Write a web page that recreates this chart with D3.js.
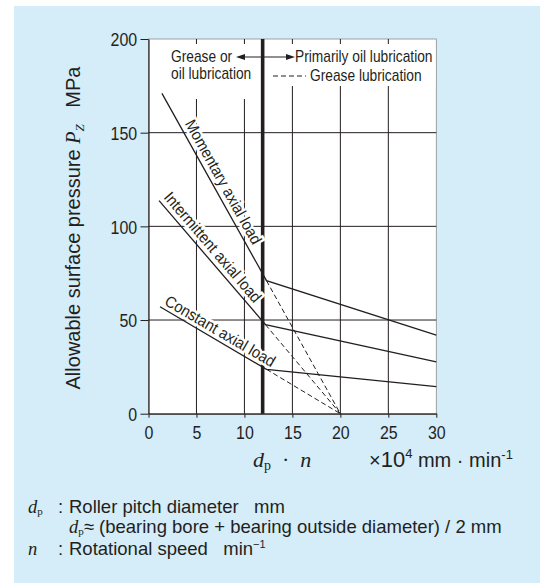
<!DOCTYPE html>
<html>
<head>
<meta charset="utf-8">
<script src="https://cdn.jsdelivr.net/npm/d3@7"></script>
<style>
  body { margin: 0; background: #fff; }
  svg text { font-family: "Liberation Sans", Arial, sans-serif; fill: #231f20; }
  .math { font-family: "Liberation Serif", serif; font-style: italic; }
  .rm { font-family: "Liberation Serif", serif; font-style: normal; }
</style>
</head>
<body>
<div id="chart"></div>
<script>
let w = 546;
let h = 585;

// chart values
const xTicks = [0, 5, 10, 15, 20, 25, 30];
const yTicks = [0, 50, 100, 150, 200];
const gridX = [5, 10, 15, 20, 25];
const gridY = [50, 100, 150];
const loadNames = ["Momentary axial load", "Intermittent axial load", "Constant axial load"];
const startX = [1.4, 1.1, 1.2];
const startP = [171, 113.7, 57.1];
const kinkX = [12.3, 12.2, 12.3];
const kinkP = [71, 47.5, 23.7];
const endX = [30, 30, 30];
const endP = [42, 27.7, 14.4];
const limitX = 11.9;   // grease / oil border
const zeroX = 20;      // grease lubrication limit

const ink = "#231f20";
const sp = "\u00a0";

let svg = d3.select("#chart")
            .append("svg")
            .attr("width", w)
            .attr("height", h);

// condensed text: group at (x,y) squeezed horizontally
function narrowText(x, y, sx, size, str, anchor) {
  return svg.append("g")
    .attr("transform", `translate(${x},${y}) scale(${sx},1)`)
    .append("text")
    .attr("font-size", size)
    .attr("text-anchor", anchor || "start")
    .text(str);
}

// blue panel
svg.append("rect")
   .attr("x", 14).attr("y", 6)
   .attr("width", 526).attr("height", 577)
   .attr("fill", "#d5ecf9");

let xScale = d3.scaleLinear([0, 30], [148.5, 436.3]);
let yScale = d3.scaleLinear([0, 200], [413.7, 39]);

// plot area
svg.append("rect")
   .attr("x", xScale(0)).attr("y", yScale(200))
   .attr("width", xScale(30) - xScale(0))
   .attr("height", yScale(0) - yScale(200))
   .attr("fill", "#fff")
   .attr("stroke", "#8a8a8a")
   .attr("stroke-width", 0.8);

// grid
svg.selectAll(".gx").data(gridX).enter().append("line")
   .attr("x1", d => xScale(d)).attr("x2", d => xScale(d))
   .attr("y1", yScale(200)).attr("y2", yScale(0))
   .attr("stroke", ink).attr("stroke-width", 1);

svg.selectAll(".gy").data(gridY).enter().append("line")
   .attr("x1", xScale(0)).attr("x2", xScale(30))
   .attr("y1", d => yScale(d)).attr("y2", d => yScale(d))
   .attr("stroke", ink).attr("stroke-width", 1);

// legend boxes hide the grid behind the legend text
svg.append("rect")
   .attr("x", xScale(0) + 1).attr("y", yScale(200) + 5)
   .attr("width", xScale(limitX) - xScale(0) - 3).attr("height", 55)
   .attr("fill", "#fff");
svg.append("rect")
   .attr("x", xScale(limitX) + 2).attr("y", yScale(200) + 5)
   .attr("width", xScale(30) - xScale(limitX) - 3).attr("height", 42)
   .attr("fill", "#fff");

// axes
let yAxis = d3.axisLeft(yScale).tickValues(yTicks).tickSize(8).tickSizeOuter(0).tickPadding(3);
let gy = svg.append("g")
   .attr("transform", `translate(${xScale(0)},0)`)
   .call(yAxis);
let xAxis = d3.axisBottom(xScale).tickValues(xTicks).tickSize(4).tickSizeOuter(0).tickPadding(8);
let gx = svg.append("g")
   .attr("transform", `translate(0,${yScale(0)})`)
   .call(xAxis);
[gx, gy].forEach(g => {
  g.select(".domain").attr("stroke", ink).attr("stroke-width", 1.2);
  g.selectAll(".tick line").attr("stroke", ink).attr("stroke-width", 1);
  g.selectAll(".tick text").attr("font-size", 19).attr("fill", ink)
   .style("font-family", "'Liberation Sans',Arial,sans-serif")
   .attr("transform", "scale(0.84,1)");
});
gy.selectAll(".tick text").attr("dy", "0.36em").attr("x", -13.5);

// thick limit line
svg.append("line")
   .attr("x1", xScale(limitX)).attr("x2", xScale(limitX))
   .attr("y1", yScale(200)).attr("y2", yScale(0))
   .attr("stroke", ink).attr("stroke-width", 3.6);

// load labels along the grease segments
const labelT = [0.5, 0.43, 0.52];
const labelOff = [-5, -5, -4];
loadNames.forEach((name, i) => {
  let x1 = xScale(startX[i]), y1 = yScale(startP[i]);
  let x2 = xScale(kinkX[i]), y2 = yScale(kinkP[i]);
  let ang = Math.atan2(y2 - y1, x2 - x1) * 180 / Math.PI;
  let px = x1 + (x2 - x1) * labelT[i];
  let py = y1 + (y2 - y1) * labelT[i];
  svg.append("text")
     .attr("transform", `translate(${px},${py}) rotate(${ang}) scale(0.92,1)`)
     .attr("y", labelOff[i])
     .attr("text-anchor", "middle")
     .attr("font-size", 16)
     .attr("stroke", "#fff").attr("stroke-width", 5)
     .attr("paint-order", "stroke")
     .text(name);
});

// curves
let line = d3.line().x(d => xScale(d[0])).y(d => yScale(d[1]));
loadNames.forEach((name, i) => {
  svg.append("path")
     .attr("d", line([[startX[i], startP[i]], [kinkX[i], kinkP[i]], [endX[i], endP[i]]]))
     .attr("fill", "none").attr("stroke", ink).attr("stroke-width", 1.3);
  svg.append("path")
     .attr("d", line([[kinkX[i], kinkP[i]], [zeroX, 0]]))
     .attr("fill", "none").attr("stroke", ink).attr("stroke-width", 1)
     .attr("stroke-dasharray", "5,3");
});

// legend
narrowText(171, 62, 0.86, 16, "Grease or");
narrowText(171, 79, 0.86, 16, "oil lubrication");
svg.append("line").attr("x1", 240).attr("x2", 290).attr("y1", 57).attr("y2", 57).attr("stroke", ink).attr("stroke-width", 1);
svg.append("path").attr("d", "M236,57 L245,54 L245,60 Z").attr("fill", ink);
svg.append("path").attr("d", "M295,57 L286,54 L286,60 Z").attr("fill", ink);
narrowText(295, 62, 0.86, 16, "Primarily oil lubrication");
svg.append("line").attr("x1", 273).attr("x2", 306).attr("y1", 76).attr("y2", 76)
  .attr("stroke", ink).attr("stroke-width", 1).attr("stroke-dasharray", "5,3");
narrowText(310, 81, 0.86, 16, "Grease lubrication");

// y axis title
let yt = svg.append("text")
   .attr("transform", "translate(80,228) rotate(-90)")
   .attr("text-anchor", "middle")
   .attr("font-size", 20);
yt.append("tspan").text("Allowable surface pressure" + sp);
yt.append("tspan").attr("class", "math").text("P");
yt.append("tspan").attr("class", "math").attr("font-size", 13).attr("dy", 4).text("Z");
yt.append("tspan").attr("dy", -4).text(sp + sp + sp + "MPa");

// x axis title
let xt = svg.append("text").attr("x", 253).attr("y", 467).attr("font-size", 22);
xt.append("tspan").attr("class", "math").text("d");
xt.append("tspan").attr("class", "rm").attr("font-size", 14).attr("dy", 3).text("p");
xt.append("tspan").attr("class", "rm").attr("dy", -3).text(sp + sp + "\u00b7" + sp + sp);
xt.append("tspan").attr("class", "math").text("n");

let ut = svg.append("text").attr("x", 369).attr("y", 467).attr("font-size", 20);
ut.append("tspan").text("\u00d7");
ut.append("tspan").attr("font-size", 22).text("10");
ut.append("tspan").attr("font-size", 13).attr("dy", -9).text("4");
ut.append("tspan").attr("dy", 9).text(sp + "mm" + sp + "\u00b7" + sp + "min");
ut.append("tspan").attr("font-size", 13).attr("dy", -8).text("-1");

// notes
let n1 = svg.append("text").attr("x", 28).attr("y", 513).attr("font-size", 18.5);
n1.append("tspan").attr("class", "math").text("d");
n1.append("tspan").attr("class", "rm").attr("font-size", 11).attr("dy", 2).text("p");
n1.append("tspan").attr("x", 58).attr("dy", -2).text(":");
n1.append("tspan").attr("x", 69).text("Roller pitch diameter" + sp + sp + sp + "mm");

let n2 = svg.append("text").attr("x", 69).attr("y", 533).attr("font-size", 18.5);
n2.append("tspan").attr("class", "math").text("d");
n2.append("tspan").attr("class", "rm").attr("font-size", 11).attr("dy", 2).text("p");
n2.append("tspan").attr("dy", -2).text("\u2248 (bearing bore + bearing outside diameter) / 2 mm");

let n3 = svg.append("text").attr("x", 28).attr("y", 555).attr("font-size", 18.5);
n3.append("tspan").attr("class", "math").text("n");
n3.append("tspan").attr("x", 58).text(":");
n3.append("tspan").attr("x", 69).text("Rotational speed" + sp + sp + sp + "min");
n3.append("tspan").attr("font-size", 11).attr("dy", -7).text("\u22121");
</script>
</body>
</html>
